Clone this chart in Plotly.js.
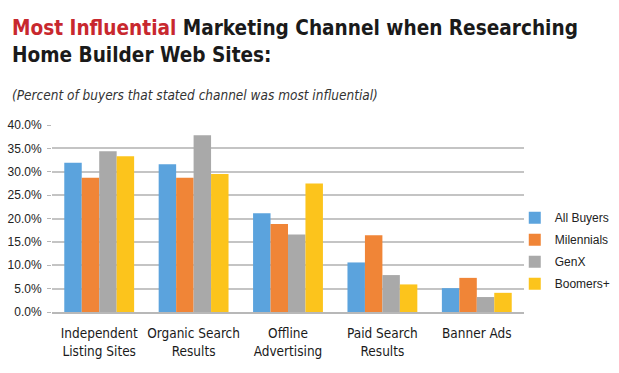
<!DOCTYPE html>
<html>
<head>
<meta charset="utf-8">
<script src="https://cdn.plot.ly/plotly-3.0.1.min.js"></script>
<style>html,body{margin:0;padding:0;background:#fff;}#chart{width:619px;height:373px;}</style>
</head>
<body>
<div id="chart"></div>
<script>
var categories = ["Independent<br>Listing Sites", "Organic Search<br>Results", "Offline<br>Advertising", "Paid Search<br>Results", "Banner Ads"];
var seriesNames = ["All Buyers", "Milennials", "GenX", "Boomers+"];
var allBuyers = [31.9, 31.6, 21.1, 10.6, 5.1];
var milennials = [28.7, 28.7, 18.8, 16.4, 7.3];
var genX = [34.4, 37.8, 16.6, 7.9, 3.2];
var boomers = [33.3, 29.5, 27.5, 5.9, 4.1];
var yTickVals = [0, 5, 10, 15, 20, 25, 30, 35, 40];
var yTickText = ["0.0%", "5.0%", "10.0%", "15.0%", "20.0%", "25.0%", "30.0%", "35.0%", "40.0%"];

var colors = ["#5ba3dd", "#f08537", "#a9a9a9", "#fcc41c"];
var seriesValues = [allBuyers, milennials, genX, boomers];

var traces = seriesValues.map(function (vals, i) {
  return {
    type: "bar",
    name: seriesNames[i],
    x: categories,
    y: vals,
    legendgroup: "g" + i,
    marker: { color: colors[i], line: { width: 0 } },
    hovertemplate: "%{y:.1f}%<extra>" + seriesNames[i] + "</extra>"
  };
});

var narrow = "'Liberation Sans Narrow', 'DejaVu Sans Condensed', Arial, sans-serif";

var layout = {
  width: 619,
  height: 373,
  margin: { l: 52, r: 95, t: 125, b: 61, pad: 0 },
  paper_bgcolor: "#ffffff",
  plot_bgcolor: "#ffffff",
  barmode: "group",
  bargap: 0.26,
  bargroupgap: 0,
  showlegend: true,
  legend: {
    xref: "container", yref: "container",
    x: 0.851, xanchor: "left",
    y: 0.455, yanchor: "top",
    indentation: -12,
    font: { family: "'Liberation Sans', Arial, sans-serif", size: 12, color: "#222" },
    tracegroupgap: 3,
    itemwidth: 30,
    bgcolor: "rgba(0,0,0,0)"
  },
  xaxis: {
    type: "category",
    tickfont: { family: narrow, size: 13.5, color: "#1a1a1a" },
    showline: true,
    linecolor: "#b8b8b8",
    linewidth: 1.5,
    ticks: "",
    ticklabelstandoff: 8,
    showgrid: false,
    fixedrange: true
  },
  yaxis: {
    range: [0, 40],
    tickvals: yTickVals,
    ticktext: yTickText,
    tickfont: { family: "'Liberation Sans', Arial, sans-serif", size: 12, color: "#222" },
    showgrid: true,
    gridcolor: "#c4c4c4",
    gridwidth: 1.5,
    zeroline: false,
    showline: false,
    ticks: "outside",
    ticklen: 4,
    tickcolor: "#b8b8b8",
    ticklabelstandoff: 3,
    fixedrange: true
  },
  annotations: [
    {
      xref: "paper", yref: "paper",
      x: -0.089, y: 1.591, xanchor: "left", yanchor: "top",
      align: "left",
      showarrow: false,
      text: "<b><span style='color:#c8282e'>Most Influential</span> Marketing Channel when Researching<br>Home Builder Web Sites:</b>",
      font: { family: narrow, size: 20.6, color: "#1a1a1a" }
    },
    {
      xref: "paper", yref: "paper",
      x: -0.089, y: 1.215, xanchor: "left", yanchor: "top",
      align: "left",
      showarrow: false,
      text: "<i>(Percent of buyers that stated channel was most influential)</i>",
      font: { family: narrow, size: 13.5, color: "#333" }
    }
  ]
};

Plotly.newPlot("chart", traces, layout, { displayModeBar: false });
</script>
</body>
</html>
